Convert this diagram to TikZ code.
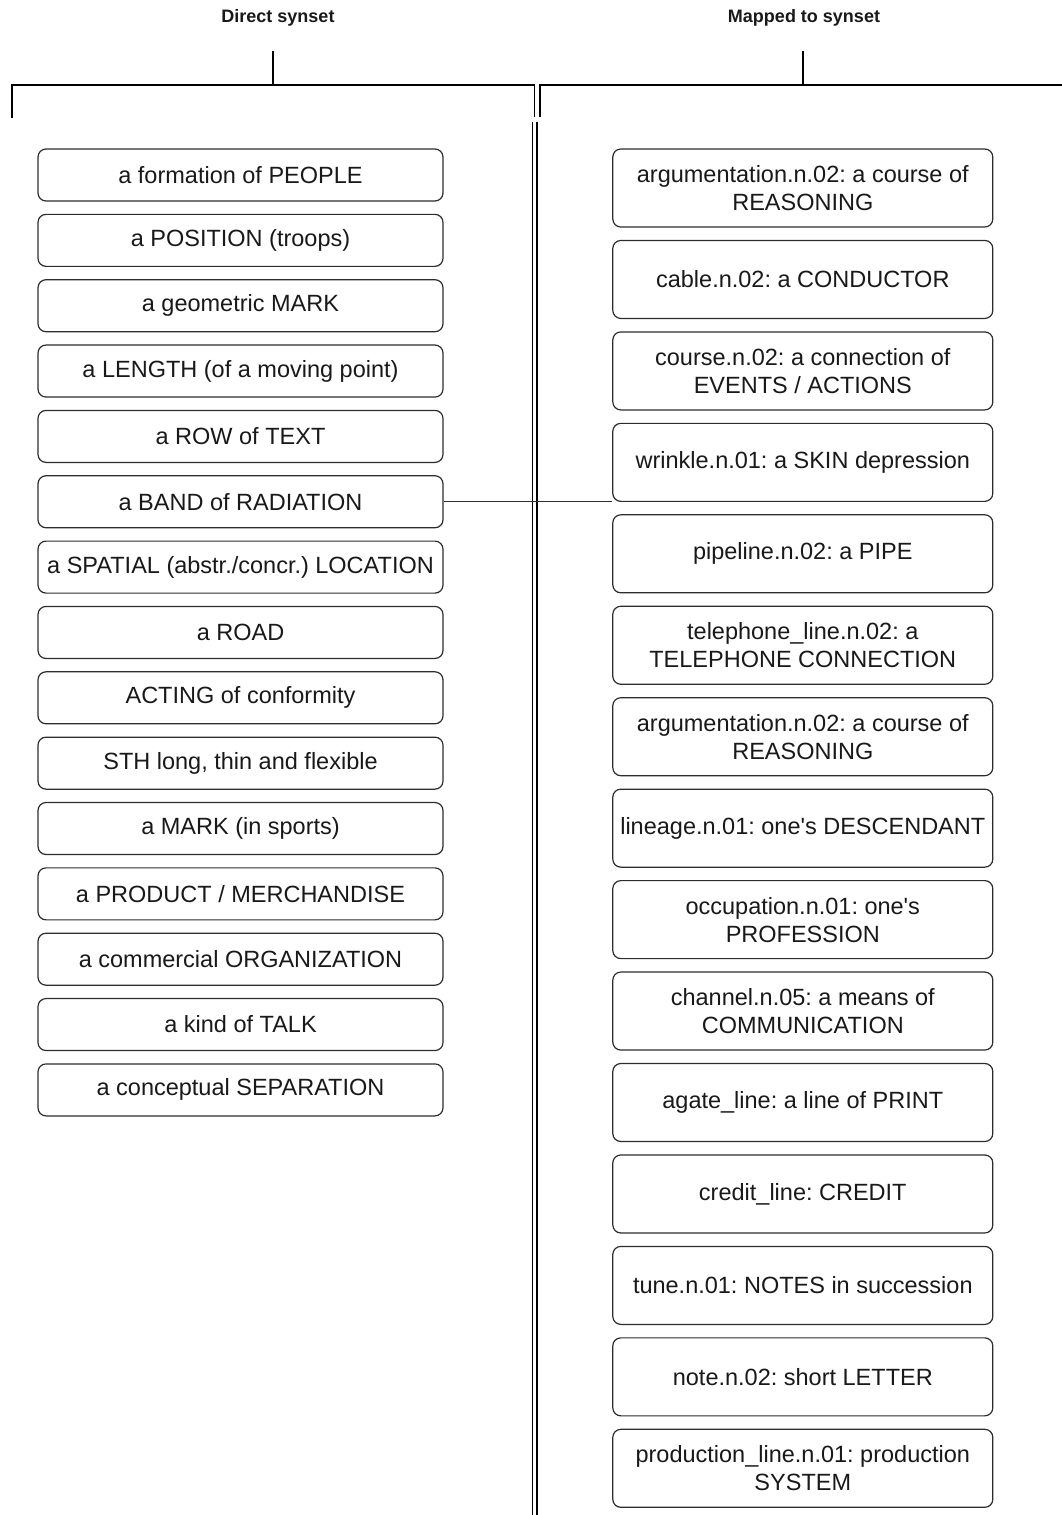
\documentclass[tikz,border=0pt]{standalone}
\usepackage{fontspec}
\setmainfont{Liberation Sans}
\frenchspacing
\definecolor{ink}{RGB}{25,25,25}
\definecolor{edge}{RGB}{45,45,45}
\begin{document}
\begin{tikzpicture}[x=1pt,y=-1pt,
  sensebox/.style={draw=edge, line width=1.2pt, rounded corners=8pt, fill=white,
    align=center, inner sep=0pt, text=ink,
    font=\fontsize{23.5}{28}\selectfont},
  leftbox/.style={sensebox, minimum width=405pt, minimum height=52pt},
  rightbox/.style={sensebox, minimum width=380pt, minimum height=78pt},
  header/.style={text=ink, font=\fontsize{18}{21}\selectfont\bfseries, inner sep=0pt},
  bracket/.style={draw=black, line width=1.6pt},
  divider/.style={draw=black, line width=1.2pt}]
\useasboundingbox (0,0) rectangle (1061,1515);

% column headers
\node[header] (hleft) at (278,18) {Direct synset};
\node[header] (hright) at (804,18) {Mapped to synset};

% brackets under the headers
\coordinate (tl) at (273,51);
\coordinate (tr) at (803,51);
\draw[bracket] (tl) -- (273,85);
\draw[bracket] (12,118) -- (12,85) -- (534.5,85) -- (534.5,117);
\draw[bracket] (tr) -- (803,85);
\draw[bracket] (540,117) -- (540,85) -- (1064,85);

% double divider between the two columns
\draw[divider] (532.5,122) -- (532.5,1515);
\draw[divider] (537,122) -- (537,1515);

% direct synsets
\foreach \t [count=\i from 0] in {
  a formation of PEOPLE,
  a POSITION (troops),
  a geometric MARK,
  a LENGTH (of a moving point),
  a ROW of TEXT,
  a BAND of RADIATION,
  a SPATIAL (abstr./concr.) LOCATION,
  a ROAD,
  ACTING of conformity,
  {STH long, thin and flexible},
  a MARK (in sports),
  a PRODUCT / MERCHANDISE,
  a commercial ORGANIZATION,
  a kind of TALK,
  a conceptual SEPARATION}
  \node[leftbox] (l\i) at (240.5, 175+65.35*\i) {\t};

% mapped synsets
\foreach \t [count=\i from 0] in {
  {argumentation.n.02: a course of\\REASONING},
  {cable.n.02: a CONDUCTOR},
  {course.n.02: a connection of\\EVENTS / ACTIONS},
  {wrinkle.n.01: a SKIN depression},
  {pipeline.n.02: a PIPE},
  {telephone\_line.n.02: a\\TELEPHONE CONNECTION},
  {argumentation.n.02: a course of\\REASONING},
  {lineage.n.01: one\textquotesingle s DESCENDANT},
  {occupation.n.01: one\textquotesingle s\\PROFESSION},
  {channel.n.05: a means of\\COMMUNICATION},
  {agate\_line: a line of PRINT},
  {credit\_line: CREDIT},
  {tune.n.01: NOTES in succession},
  {note.n.02: short LETTER},
  {production\_line.n.01: production\\SYSTEM}}
  \node[rightbox] (r\i) at (802.8, 188+91.45*\i) {\t};

% link between a BAND of RADIATION and wrinkle.n.01
\draw[draw=edge, line width=1.2pt] (l5.east) -- (l5.east -| r3.west);
\end{tikzpicture}
\end{document}
